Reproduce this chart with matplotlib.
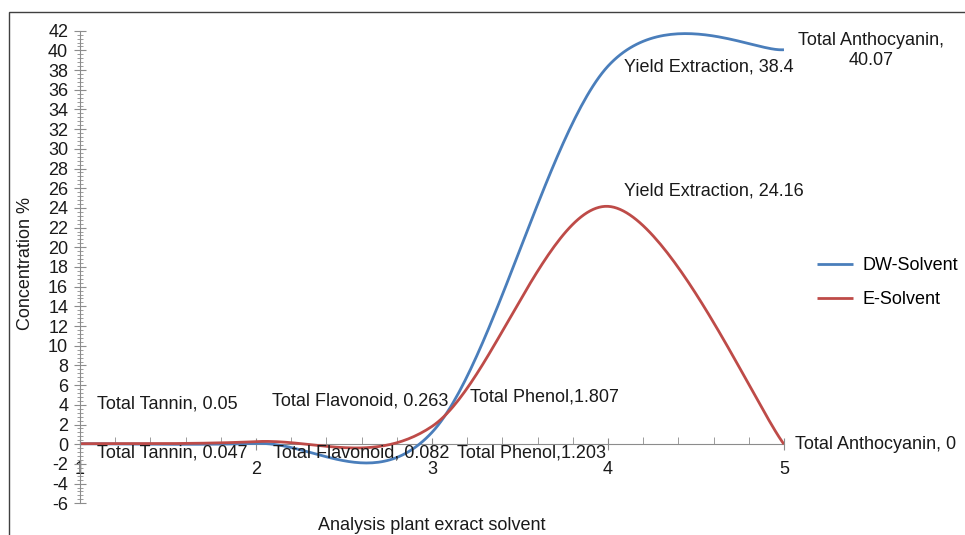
import numpy as np
import matplotlib.pyplot as plt
from matplotlib.ticker import MultipleLocator
from matplotlib.patches import Rectangle

plt.rcParams["font.family"] = ["Liberation Sans", "DejaVu Sans"]
plt.rcParams["axes.unicode_minus"] = False

# data
categories = ["Total Tannin", "Total Flavonoid", "Total Phenol", "Yield Extraction", "Total Anthocyanin"]
x_pos = [1, 2, 3, 4, 5]
dw_solvent = [0.047, 0.082, 1.203, 38.4, 40.07]
e_solvent = [0.05, 0.263, 1.807, 24.16, 0]

BLUE = "#4A7EBB"
RED = "#BE4B48"
GREY = "#8C8C8C"
INK = "#1a1a1a"
FS = 13


def excel_smooth(x, y, n=60):
    """Bezier smoothing like Excel's 'smoothed line' (Catmull-Rom, tension 1/6)."""
    p = np.column_stack([x, y]).astype(float)
    p_ext = np.vstack([p[0], p, p[-1]])
    out = []
    for i in range(len(p) - 1):
        p0, p3 = p[i], p[i + 1]
        c1 = p0 + (p_ext[i + 2] - p_ext[i]) / 6
        c2 = p3 - (p_ext[i + 3] - p_ext[i + 1]) / 6
        t = np.linspace(0, 1, n)[:, None]
        seg = ((1 - t) ** 3 * p0 + 3 * (1 - t) ** 2 * t * c1
               + 3 * (1 - t) * t ** 2 * c2 + t ** 3 * p3)
        out.append(seg if i == 0 else seg[1:])
    out = np.vstack(out)
    return out[:, 0], out[:, 1]


def label(cat, val):
    sep = "," if cat == "Total Phenol" else ", "
    return f"{cat}{sep}{val}"


fig = plt.figure(figsize=(9.65, 5.35), dpi=100)
ax = fig.add_axes([0.0829, 0.0593, 0.7295, 0.8833])

bx, by = excel_smooth(x_pos, dw_solvent)
rx, ry = excel_smooth(x_pos, e_solvent)
ax.plot(bx, by, color=BLUE, lw=2.0, label="DW-Solvent", solid_capstyle="butt")
ax.plot(rx, ry, color=RED, lw=2.0, label="E-Solvent", solid_capstyle="butt")

ax.set_xlim(1, 5)
ax.set_ylim(-6, 42)
for s in ["top", "right"]:
    ax.spines[s].set_visible(False)
ax.spines["bottom"].set_position(("data", 0))
ax.spines["bottom"].set_color(GREY)
ax.spines["left"].set_color(GREY)
ax.spines["bottom"].set_zorder(0)

ax.yaxis.set_major_locator(MultipleLocator(2))
ax.yaxis.set_minor_locator(MultipleLocator(0.4))
ax.xaxis.set_major_locator(MultipleLocator(1))
ax.xaxis.set_minor_locator(MultipleLocator(0.2))
ax.tick_params(axis="y", which="major", direction="inout", length=9, color=GREY,
               labelsize=FS, pad=4, labelcolor=INK)
ax.tick_params(axis="y", which="minor", direction="inout", length=5, color=GREY)
ax.tick_params(axis="x", which="major", direction="inout", length=8, color=GREY,
               labelsize=FS, pad=8, labelcolor=INK)
ax.tick_params(axis="x", which="minor", direction="in", length=5, color=GREY)

# data labels (blue below, red above)
txt = dict(fontsize=FS, color=INK, va="center")
blue_spots = [(1.097, -0.9), (2.097, -0.9), (3.142, -0.9), (4.09, 38.3)]
red_spots = [(1.097, 4.08), (2.09, 4.4), (3.216, 4.8), (4.09, 25.7), (5.063, 0)]
for (tx, ty), cat, v in zip(blue_spots, categories, dw_solvent):
    ax.text(tx, ty, label(cat, v), ha="left", **txt)
ax.text(5.494, 40.0, f"{categories[4]},\n{dw_solvent[4]}", ha="center",
        linespacing=1.25, **txt)
for (tx, ty), cat, v in zip(red_spots, categories, e_solvent):
    ax.text(tx, ty, label(cat, v), ha="left", **txt)

fig.text(26 / 965, 1 - 264 / 535, "Concentration %", rotation=90, ha="center",
         va="center", fontsize=FS, color=INK)
fig.text(432 / 965, 1 - 525 / 535, "Analysis plant exract solvent", ha="center",
         va="center", fontsize=FS, color=INK)

fig.legend(loc="upper left", bbox_to_anchor=(817 / 965, 1 - 257 / 535), frameon=False,
           fontsize=FS, handlelength=2.0, handletextpad=0.5, labelspacing=0.95,
           borderaxespad=0, borderpad=0)

# outer chart border (cropped on right and bottom)
fig.patches.append(Rectangle((9 / 965, -0.1), 1.2, 1.1 - 12 / 535,
                             transform=fig.transFigure, fill=False,
                             edgecolor="#404040", lw=1.0))

fig.savefig("out.png", dpi=100)
